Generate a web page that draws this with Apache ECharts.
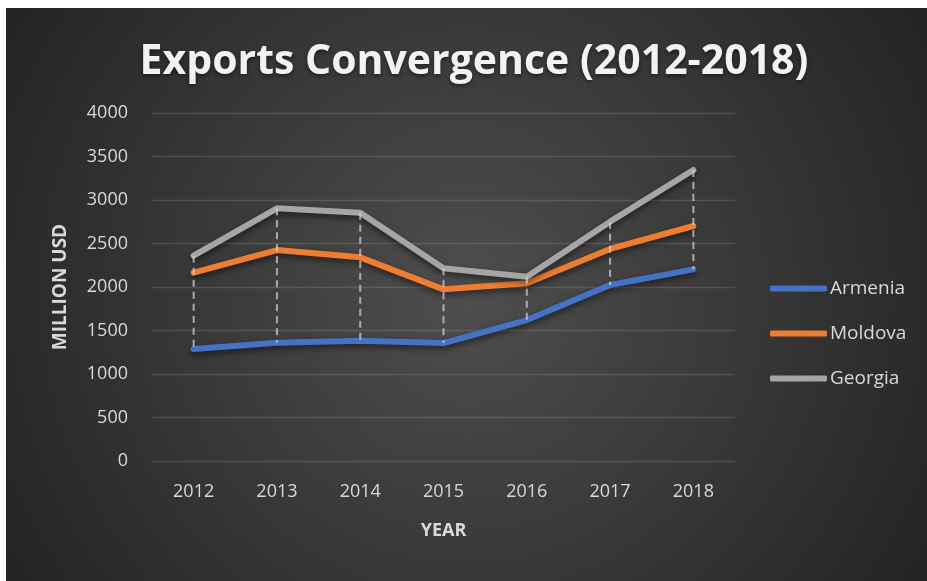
<!DOCTYPE html>
<html>
<head>
<meta charset="utf-8">
<script src="https://cdn.jsdelivr.net/npm/echarts@6/dist/echarts.min.js"></script>
<style>
  html, body { margin: 0; padding: 0; background: #ffffff; }
  #chart { width: 927px; height: 581px; }
</style>
</head>
<body>
<div id="chart"></div>
<script>
// Export values in million USD, 2012-2018
const years = ['2012', '2013', '2014', '2015', '2016', '2017', '2018'];
const armenia = [1287, 1360, 1383, 1356, 1620, 2023, 2203];
const moldova = [2165, 2425, 2341, 1973, 2042, 2437, 2701];
const georgia = [2360, 2904, 2854, 2215, 2119, 2751, 3345];

const FONT = '"Open Sans", "DejaVu Sans", sans-serif';
const labelColor = '#d9d9d9';

// High-low drop lines: from the highest to the lowest series at each year
const highLow = years.map((y, i) => [i, Math.max(armenia[i], moldova[i], georgia[i]), Math.min(armenia[i], moldova[i], georgia[i])]);

function lineSeries(name, data, color) {
  return {
    name: name,
    type: 'line',
    data: data,
    showSymbol: false,
    symbol: 'none',
    z: 3,
    lineStyle: {
      color: color,
      width: 6,
      cap: 'round',
      join: 'round',
      shadowColor: 'rgba(0,0,0,0.55)',
      shadowBlur: 6,
      shadowOffsetY: 3
    },
    itemStyle: { color: color }
  };
}

const chart = echarts.init(document.getElementById('chart'), null, { renderer: 'canvas' });
chart.setOption({
  backgroundColor: '#ffffff',
  animation: false,
  graphic: [{
    type: 'rect',
    z: -100,
    silent: true,
    shape: { x: 6, y: 8, width: 921, height: 573 },
    style: {
      fill: {
        type: 'radial', x: 0.5, y: 0.5, r: 0.95,
        colorStops: [
          { offset: 0, color: '#4e4e4e' },
          { offset: 1, color: '#232323' }
        ]
      }
    }
  }],
  title: {
    text: 'Exports Convergence (2012-2018)',
    left: 469,
    top: 57,
    textAlign: 'center',
    textVerticalAlign: 'middle',
    textStyle: {
      color: '#f2f2f2',
      fontFamily: FONT,
      fontWeight: 'bold',
      fontSize: 41,
      textShadowColor: 'rgba(0,0,0,0.5)',
      textShadowBlur: 4,
      textShadowOffsetY: 2
    }
  },
  legend: {
    orient: 'vertical',
    left: 765,
    top: 272,
    itemWidth: 57,
    itemHeight: 6,
    itemGap: 22,
    icon: 'roundRect',
    data: ['Armenia', 'Moldova', 'Georgia'],
    textStyle: { color: labelColor, fontFamily: FONT, fontSize: 19, lineHeight: 23, padding: [0, 0, 0, -2] }
  },
  grid: { left: 152, right: 192, top: 113, bottom: 120, containLabel: false },
  xAxis: {
    type: 'category',
    data: years,
    boundaryGap: true,
    name: 'YEAR',
    nameLocation: 'middle',
    nameGap: 61,
    nameTextStyle: { color: labelColor, fontFamily: FONT, fontWeight: 'bold', fontSize: 18 },
    axisLine: { show: false },
    axisTick: { show: false },
    axisLabel: { color: labelColor, fontFamily: FONT, fontSize: 18, margin: 22 }
  },
  yAxis: {
    type: 'value',
    min: 0,
    max: 4000,
    interval: 500,
    name: 'MILLION USD',
    nameLocation: 'middle',
    nameGap: 82,
    nameRotate: 90,
    nameTextStyle: { color: labelColor, fontFamily: FONT, fontWeight: 'bold', fontSize: 19 },
    axisLine: { show: false },
    axisTick: { show: false },
    axisLabel: { color: labelColor, fontFamily: FONT, fontSize: 18, margin: 24, formatter: v => String(v) },
    splitLine: { lineStyle: { color: 'rgba(255,255,255,0.13)', width: 1.3 } }
  },
  series: [
    lineSeries('Armenia', armenia, '#4472c4'),
    lineSeries('Moldova', moldova, '#ed7d31'),
    lineSeries('Georgia', georgia, '#a5a5a5'),
    {
      name: 'highLow',
      type: 'custom',
      z: 5,
      silent: true,
      data: highLow,
      encode: { x: 0, y: [1, 2] },
      renderItem: function (params, api) {
        const top = api.coord([api.value(0), api.value(1)]);
        const bottom = api.coord([api.value(0), api.value(2)]);
        return {
          type: 'line',
          shape: { x1: top[0], y1: top[1], x2: bottom[0], y2: bottom[1] },
          style: { stroke: 'rgba(217,217,217,0.7)', lineWidth: 2, lineDash: [7, 5] }
        };
      }
    }
  ]
});
</script>
</body>
</html>
